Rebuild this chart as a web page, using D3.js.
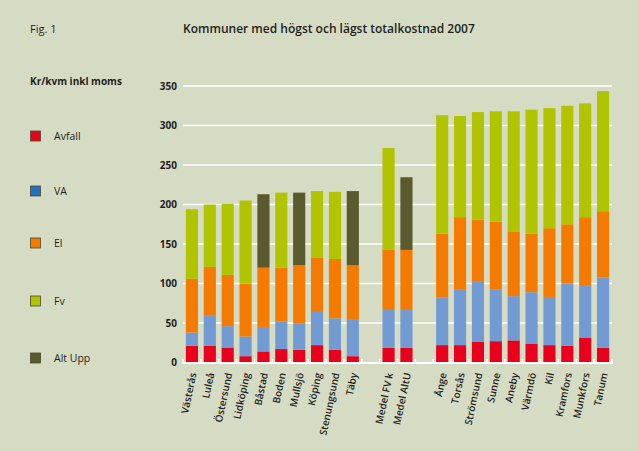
<!DOCTYPE html>
<html><head><meta charset="utf-8">
<script src="https://cdn.jsdelivr.net/npm/d3@7"></script>
<style>
html,body{margin:0;padding:0;background:#d6dcc4;}
svg{display:block;}
text{font-family:"Open Sans",sans-serif;fill:#1e1e1e;}
</style></head>
<body>
<svg id="c" width="639" height="451"></svg>
<script>
// Categories (null = empty slot)
const categories = ["Västerås","Luleå","Östersund","Lidköping","Båstad","Boden","Mullsjö","Köping","Stenungsund","Täby",
  null,"Medel FV k","Medel AltU",null,
  "Ånge","Torsås","Strömsund","Sunne","Aneby","Värmdö","Kil","Kramfors","Munkfors","Tanum"];
const avfall = [21,21,19,8,14,17,16,22,16,8, null,18.5,18.5,null, 22,22,26,27,28,24,22,21,31,18.5];
const va     = [17,38,27,25,31,35,33,42,40,47, null,48,48,null, 60,70,76,65,56,65,61,79,67,89];
const el     = [68,62,65,67,75,68,74,69,75,68, null,76,76,null, 81,92,79,86,82,74,87,75,86,84];
const fv     = [88,79,90,105,0,95,0,84,85,0, null,129,0,null, 150,128,136,140,152,157,152,150,144,152];
const altUpp = [0,0,0,0,93,0,92,0,0,94, null,0,92,null, 0,0,0,0,0,0,0,0,0,0];
const seriesNames = ["Avfall","VA","El","Fv","Alt Upp"];
const seriesColors = ["#e8001c","#729bd3","#f57b00","#b1c400","#5a5a2e"];
const legendColors = ["#e8001c","#1f6fc4","#f57b00","#b1c400","#5a5a2e"];
const yTicks = [0,50,100,150,200,250,300,350];

const svg = d3.select("#c");
const x = d3.scaleBand().domain(d3.range(categories.length)).range([183,612]).paddingInner(0.32).paddingOuter(0.16);
const y = d3.scaleLinear().domain([0,350]).range([362.5,86]);

// texts
svg.append("text").attr("x",30).attr("y",33).attr("font-size",11).text("Fig. 1");
svg.append("text").attr("x",183).attr("y",33).attr("font-size",12).attr("font-weight",600).text("Kommuner med högst och lägst totalkostnad 2007");
svg.append("text").attr("x",30).attr("y",85).attr("font-size",10).attr("font-weight",700).text("Kr/kvm inkl moms");

// grid
const gridG = svg.append("g");
gridG.selectAll("line").data(yTicks.filter(d=>d>0)).join("line")
  .attr("x1",183).attr("x2",612).attr("y1",d=>y(d)).attr("y2",d=>y(d))
  .attr("stroke","#ffffff").attr("stroke-width",1.6);

// y axis labels
const yAxis = d3.axisLeft(y).tickValues(yTicks).tickSize(0).tickPadding(0);
const ya = svg.append("g").attr("transform","translate(177,0)").call(yAxis);
ya.select(".domain").remove();
ya.selectAll("text").attr("font-size",10).attr("font-weight",700).attr("fill","#1e1e1e").style("font-family","'Open Sans',sans-serif");

// stacked bars
const rows = categories.map((c,i)=>({i, c, Avfall:avfall[i], VA:va[i], El:el[i], Fv:fv[i], "Alt Upp":altUpp[i]})).filter(d=>d.c!==null);
const stack = d3.stack().keys(seriesNames)(rows);
svg.append("g").selectAll("g").data(stack).join("g")
  .attr("fill",(d,k)=>seriesColors[k])
  .selectAll("rect").data(d=>d.filter(s=>s[1]-s[0]>0)).join("rect")
  .attr("x",s=>x(s.data.i)).attr("width",x.bandwidth())
  .attr("y",s=>y(s[1])).attr("height",s=>y(s[0])-y(s[1]));

// baseline with small ticks
svg.append("line").attr("x1",183).attr("x2",613).attr("y1",363).attr("y2",363).attr("stroke","#fff").attr("stroke-width",2);
const bounds = d3.range(categories.length+1).map(i=> i<categories.length ? x(i)-x.step()*x.paddingInner()/2 : x(i-1)+x.bandwidth()+x.step()*x.paddingInner()/2);
svg.append("g").selectAll("line").data(bounds).join("line")
  .attr("x1",d=>d).attr("x2",d=>d).attr("y1",364).attr("y2",359).attr("stroke","#fff").attr("stroke-width",1.5);

// x labels
svg.append("g").selectAll("text").data(rows).join("text")
  .attr("transform",d=>`translate(${x(d.i)+x.bandwidth()/2+2},373) rotate(-78)`)
  .attr("text-anchor","end").attr("dominant-baseline","middle")
  .attr("font-size",10).attr("font-weight",600).text(d=>d.c);

// legend
const legY = [136,191,243,301,358];
const lg = svg.append("g").selectAll("g").data(seriesNames).join("g")
  .attr("transform",(d,k)=>`translate(30,${legY[k]})`);
lg.append("rect").attr("x",0.5).attr("y",-5).attr("width",10).attr("height",10)
  .attr("fill",(d,k)=>legendColors[k]).attr("stroke","#4a4a2a").attr("stroke-width",0.8);
lg.append("text").attr("x",24).attr("y",4).attr("font-size",10.5).text(d=>d);
</script>
</body></html>
